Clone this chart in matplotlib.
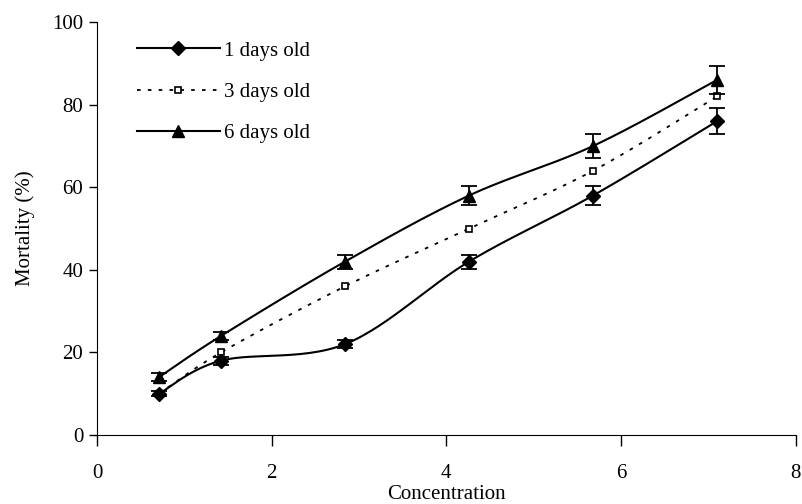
import numpy as np
import matplotlib.pyplot as plt
from matplotlib.lines import Line2D

plt.rcParams['font.family'] = ['Liberation Serif', 'DejaVu Serif']

# data
conc = [0.71, 1.42, 2.84, 4.26, 5.68, 7.1]
day1 = [10, 18, 22, 42, 58, 76]
day1_err = [0.6, 1.0, 1.0, 1.7, 2.2, 3.1]
day3 = [10, 20, 36, 50, 64, 82]
day6 = [14, 24, 42, 58, 70, 86]
day6_err = [1.0, 1.0, 1.7, 2.2, 3.0, 3.4]
labels = ['1 days old', '3 days old', '6 days old']


def smooth(x, y, n=30):
    # excel-like smoothed line: bezier segments, control = P +- (next - prev)/6
    p = np.column_stack([x, y]).astype(float)
    ext = np.vstack([p[0], p, p[-1]])
    out = []
    t = np.linspace(0, 1, n)[:, None]
    for i in range(len(p) - 1):
        p0, p1, p2, p3 = ext[i], ext[i + 1], ext[i + 2], ext[i + 3]
        c1 = p1 + (p2 - p0) / 6
        c2 = p2 - (p3 - p1) / 6
        seg = ((1 - t) ** 3) * p1 + 3 * ((1 - t) ** 2) * t * c1 + 3 * (1 - t) * t ** 2 * c2 + t ** 3 * p2
        out.append(seg)
    s = np.vstack(out)
    return s[:, 0], s[:, 1]


fig = plt.figure(figsize=(8.02, 5.04), dpi=100)
ax = fig.add_axes([0.121, 0.137, 0.871, 0.819])

sx, sy = smooth(conc, day1)
ax.plot(sx, sy, color='black', lw=1.5)
ax.errorbar(conc, day1, yerr=day1_err, fmt='D', color='black', ms=7, capsize=6, elinewidth=1.3, capthick=1.3)

sx, sy = smooth(conc, day3)
ax.plot(sx, sy, color='black', lw=1.3, ls=(0, (2, 4)))
ax.plot(conc, day3, 's', mfc='white', mec='black', ms=5, mew=1.2)

sx, sy = smooth(conc, day6)
ax.plot(sx, sy, color='black', lw=1.5)
ax.errorbar(conc, day6, yerr=day6_err, fmt='^', color='black', ms=9, capsize=6, elinewidth=1.3, capthick=1.3)

handles = [
    Line2D([], [], color='black', lw=1.5, marker='D', ms=7),
    Line2D([], [], color='black', lw=1.3, ls=(0, (2, 4)), marker='s', mfc='white', ms=5, mew=1.2),
    Line2D([], [], color='black', lw=1.5, marker='^', ms=9),
]
ax.legend(handles, labels, loc='upper left', bbox_to_anchor=(0.03, 1.0), frameon=False,
          fontsize=15, handlelength=4.0, handletextpad=0.2, labelspacing=1.05)

ax.set_xlim(0, 8)
ax.set_ylim(0, 100)
ax.set_xticks([0, 2, 4, 6, 8])
ax.set_yticks([0, 20, 40, 60, 80, 100])
ax.spines['top'].set_visible(False)
ax.spines['right'].set_visible(False)
ax.tick_params(axis='x', direction='out', length=8, width=1, pad=13, labelsize=15)
ax.tick_params(axis='y', direction='out', length=6, width=1, pad=4, labelsize=15)
ax.set_xlabel('Concentration', fontsize=15, labelpad=1)
ax.set_ylabel('Mortality (%)', fontsize=15, labelpad=12)

fig.savefig('out.png', dpi=100)
